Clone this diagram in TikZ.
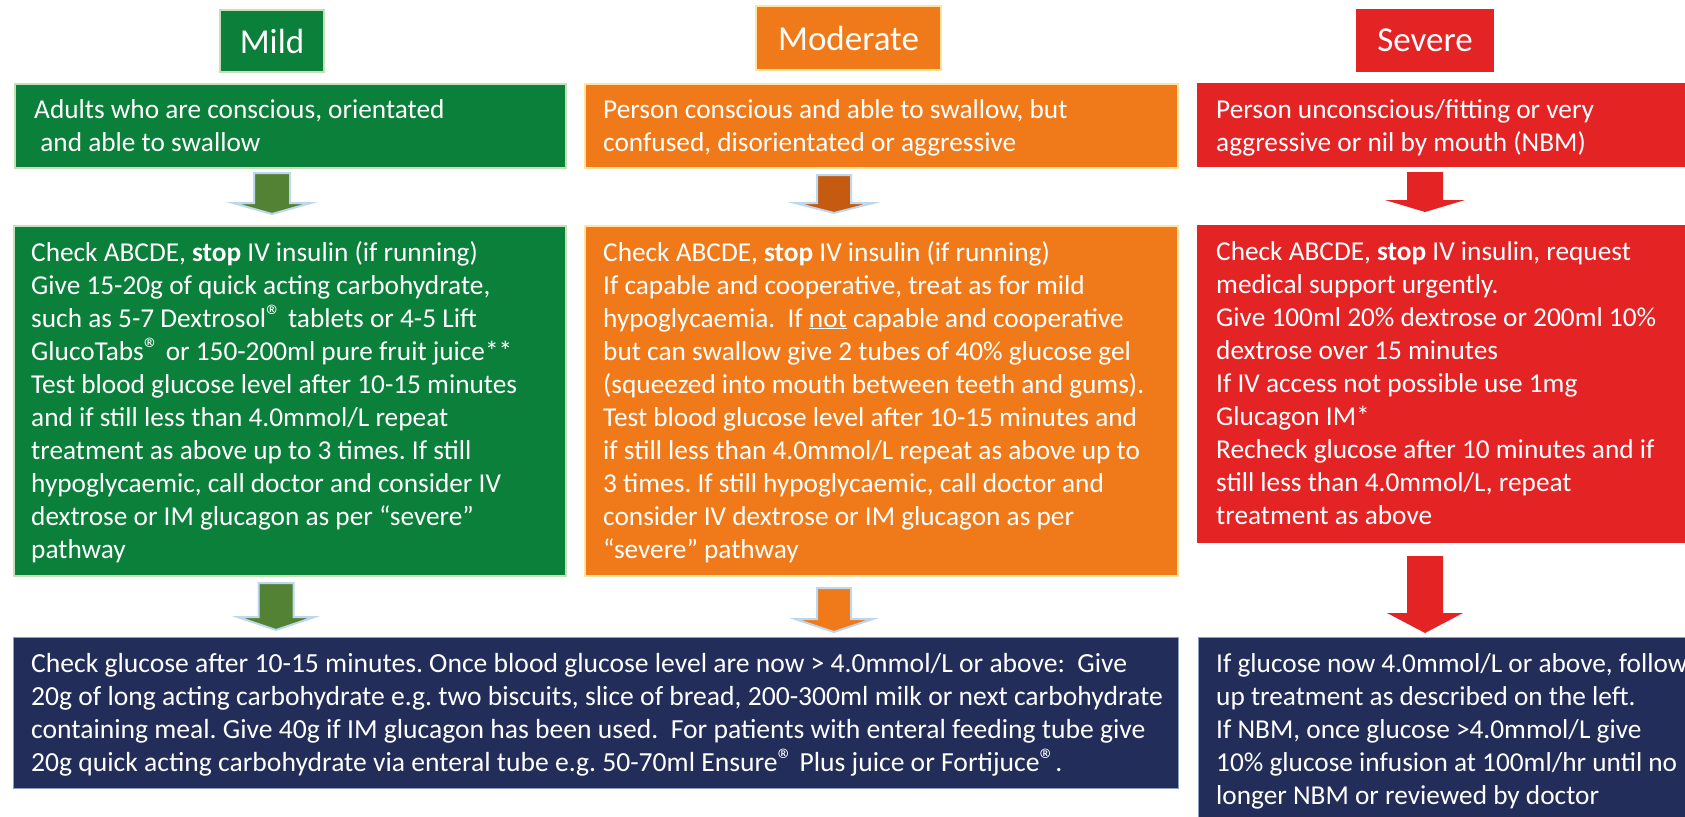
\documentclass[tikz,border=0pt]{standalone}
\usepackage{fontspec}
\setmainfont{Carlito}
\frenchspacing

% palette
\definecolor{mildgreen}{RGB}{11,128,58}
\definecolor{mildedge}{RGB}{197,224,180}
\definecolor{modorange}{RGB}{240,122,26}
\definecolor{modedge}{RGB}{255,228,160}
\definecolor{sevred}{RGB}{228,35,36}
\definecolor{navy}{RGB}{34,45,89}
\definecolor{navyedge}{RGB}{140,158,196}
\definecolor{arrowgreen}{RGB}{84,130,53}
\definecolor{arrowbrown}{RGB}{197,90,17}
\definecolor{arrowedge}{RGB}{189,215,238}

% a block of lines with a fixed baseline distance; its baseline is that of the first line
\newcommand\tblock[2]{\vtop{\baselineskip=#1pt\relax\lineskiplimit=-50pt\relax #2}}
\newcommand\tl[1]{\hbox{#1}}
\newcommand\reg{\raisebox{0.02em}{\fontsize{31}{31}\selectfont ®}}

\begin{document}
\begin{tikzpicture}[x=1pt,y=-1pt,
  boxbase/.style={rectangle, anchor=north west, inner sep=0pt, outer sep=0pt},
  greenbox/.style={boxbase, fill=mildgreen, draw=mildedge, line width=2.5pt},
  orangebox/.style={boxbase, fill=modorange, draw=modedge, line width=2pt},
  redbox/.style={boxbase, fill=sevred},
  navybox/.style={boxbase, fill=navy, draw=navyedge, line width=1pt},
  hdr/.style={rectangle, inner sep=0pt, text=white, font=\fontsize{35}{42}\selectfont},
  body/.style={anchor=base west, inner sep=0pt, text=white, font=\fontsize{27.3}{33}\selectfont},
  widebody/.style={body, font=\fontsize{27.6}{33}\selectfont},
  softarrow/.style={draw=arrowedge, line width=2pt, line join=miter},
  pics/downarrow/.style n args={4}{code={%
    % #1 half shaft width, #2 half head width, #3 shaft length, #4 head length
    \path[pic actions] ({-#1},0) -- ({#1},0) -- ({#1},{#3}) -- ({#2},{#3})
      -- (0,{#3+#4}) -- ({-#2},{#3}) -- ({-#1},{#3}) -- cycle;}},
]
\useasboundingbox (0,0) rectangle (1685,816);

% headers
\node[hdr, fill=mildgreen, draw=mildedge, line width=2pt,
      minimum width=104pt, minimum height=62pt] (mild) at (272,41) {Mild};
\node[hdr, fill=modorange, draw=modedge, line width=2pt,
      minimum width=185pt, minimum height=64pt] (moderate) at (848.5,38) {Moderate};
\node[hdr, fill=sevred,
      minimum width=138pt, minimum height=63pt] (severe) at (1425,40.5) {Severe};

% first row: who the pathway is for
\node[greenbox, minimum width=551pt, minimum height=84pt] (g1) at (15,84) {};
\node[orangebox, minimum width=593pt, minimum height=84pt] (o1) at (585,84) {};
\node[redbox, minimum width=510pt, minimum height=84pt] (r1) at (1197,83) {};

\node[body] (g1t) at (34,118) {\tblock{33}{%
  \tl{Adults who are conscious, orientated}%
  \tl{\ and able to swallow}}};
\node[body] (o1t) at (603,118) {\tblock{33}{%
  \tl{Person conscious and able to swallow, but}%
  \tl{confused, disorientated or aggressive}}};
\node[body] (r1t) at (1216,118) {\tblock{33}{%
  \tl{Person unconscious/fitting or very}%
  \tl{aggressive or nil by mouth (NBM)}}};

% second row: treatment
\node[greenbox, minimum width=552pt, minimum height=350pt] (g2) at (14,226) {};
\node[orangebox, minimum width=593pt, minimum height=350pt] (o2) at (585,226) {};
\node[redbox, minimum width=510pt, minimum height=318pt] (r2) at (1197,225) {};

\node[body] (g2t) at (31,261) {\tblock{33}{%
  \tl{Check ABCDE, \textbf{stop} IV insulin (if running)}%
  \tl{Give 15-20g of quick acting carbohydrate,}%
  \tl{such as 5-7 Dextrosol\reg{} tablets or 4-5 Lift}%
  \tl{GlucoTabs\reg{} or 150-200ml pure fruit juice**}%
  \tl{Test blood glucose level after 10-15 minutes}%
  \tl{and if still less than 4.0mmol/L repeat}%
  \tl{treatment as above up to 3 times. If still}%
  \tl{hypoglycaemic, call doctor and consider IV}%
  \tl{dextrose or IM glucagon as per “severe”}%
  \tl{pathway}}};
\node[body] (o2t) at (603,261) {\tblock{33}{%
  \tl{Check ABCDE, \textbf{stop} IV insulin (if running)}%
  \tl{If capable and cooperative, treat as for mild}%
  \tl{hypoglycaemia.\ \ If \underline{not} capable and cooperative}%
  \tl{but can swallow give 2 tubes of 40\% glucose gel}%
  \tl{(squeezed into mouth between teeth and gums).}%
  \tl{Test blood glucose level after 10-15 minutes and}%
  \tl{if still less than 4.0mmol/L repeat as above up to}%
  \tl{3 times. If still hypoglycaemic, call doctor and}%
  \tl{consider IV dextrose or IM glucagon as per}%
  \tl{“severe” pathway}}};
\node[body] (r2t) at (1216,260) {\tblock{33}{%
  \tl{Check ABCDE, \textbf{stop} IV insulin, request}%
  \tl{medical support urgently.}%
  \tl{Give 100ml 20\% dextrose or 200ml 10\%}%
  \tl{dextrose over 15 minutes}%
  \tl{If IV access not possible use 1mg}%
  \tl{Glucagon IM*}%
  \tl{Recheck glucose after 10 minutes and if}%
  \tl{still less than 4.0mmol/L, repeat}%
  \tl{treatment as above}}};

% third row: follow-up
\node[navybox, minimum width=1165pt, minimum height=151pt] (n1) at (13,637) {};
\node[navybox, minimum width=510pt, minimum height=200pt] (n2) at (1198,637) {};

\node[widebody] (n1t) at (31,672) {\tblock{33}{%
  \tl{Check glucose after 10-15 minutes. Once blood glucose level are now > 4.0mmol/L or above:\ \ Give}%
  \tl{20g of long acting carbohydrate e.g. two biscuits, slice of bread, 200-300ml milk or next carbohydrate}%
  \tl{containing meal. Give 40g if IM glucagon has been used.\ \ For patients with enteral feeding tube give}%
  \tl{20g quick acting carbohydrate via enteral tube e.g. 50-70ml Ensure\reg{} Plus juice or Fortijuce\reg.}}};
\node[body] (n2t) at (1216,672) {\tblock{33}{%
  \tl{If glucose now 4.0mmol/L or above, follow}%
  \tl{up treatment as described on the left.}%
  \tl{If NBM, once glucose >4.0mmol/L give}%
  \tl{10\% glucose infusion at 100ml/hr until no}%
  \tl{longer NBM or reviewed by doctor}}};

% block arrows between the rows
\pic[softarrow, fill=arrowgreen] (ga1) at (272,173) {downarrow={18}{39}{30}{11}};
\pic[softarrow, fill=arrowbrown] (oa1) at (834,175) {downarrow={17}{39}{28}{10}};
\pic[fill=sevred] (ra1) at (1425,172) {downarrow={18}{40}{28}{12}};
\pic[softarrow, fill=arrowgreen] (ga2) at (276,583) {downarrow={17.5}{38.5}{34}{13}};
\pic[softarrow, fill=modorange] (oa2) at (834,588) {downarrow={17}{39}{31}{13}};
\pic[fill=sevred] (ra2) at (1425,556) {downarrow={18}{38}{57}{20}};
\end{tikzpicture}
\end{document}
